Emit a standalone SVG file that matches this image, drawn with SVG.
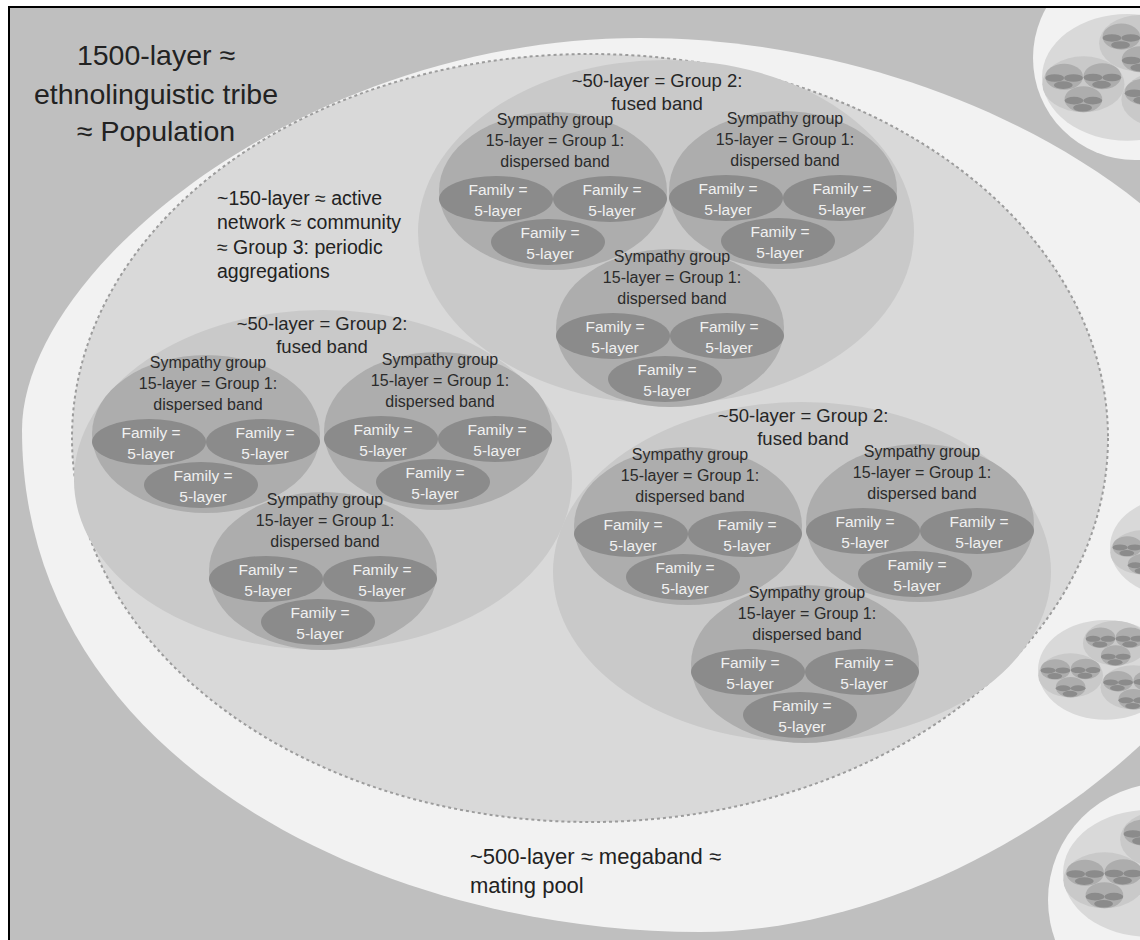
<svg xmlns="http://www.w3.org/2000/svg" xmlns:xlink="http://www.w3.org/1999/xlink" width="1140" height="940" viewBox="0 0 1140 940">
<style>
text{font-family:"Liberation Sans",Arial,sans-serif}
.lbl{fill:#222}
.band>ellipse{fill:#c9c9c9}
.band>text{font-size:18.5px;fill:#262626;text-anchor:middle}
.sym>ellipse{fill:#adadad}
.sym>text{font-size:16px;fill:#2b2b2b;text-anchor:middle}
.fam>ellipse{fill:#8b8b8b}
.fam>text{font-size:15.5px;fill:#f0f0f0;text-anchor:middle}
</style>
<defs>
<clipPath id="frame"><rect x="9" y="7" width="1131" height="933"/></clipPath>
<g id="mSym">
<ellipse cx="-2" cy="66" rx="114" ry="79" fill="#adadad"/>
<ellipse cx="-59" cy="74" rx="57" ry="23" fill="#8b8b8b"/>
<ellipse cx="55" cy="74" rx="57" ry="23" fill="#8b8b8b"/>
<ellipse cx="-7" cy="117" rx="57" ry="23" fill="#8b8b8b"/>
</g>
<g id="m150">
<ellipse cx="590" cy="438" rx="518" ry="384" fill="#d9d9d9"/>
<ellipse cx="666" cy="232" rx="248" ry="172" fill="#c9c9c9"/>
<ellipse cx="323" cy="480" rx="249" ry="170" fill="#c9c9c9"/>
<ellipse cx="802" cy="572" rx="249" ry="170" fill="#c9c9c9"/>
<use xlink:href="#mSym" x="555" y="125"/>
<use xlink:href="#mSym" x="785" y="124"/>
<use xlink:href="#mSym" x="672" y="262"/>
<use xlink:href="#mSym" x="208" y="368"/>
<use xlink:href="#mSym" x="440" y="365"/>
<use xlink:href="#mSym" x="325" y="505"/>
<use xlink:href="#mSym" x="690" y="460"/>
<use xlink:href="#mSym" x="922" y="457"/>
<use xlink:href="#mSym" x="807" y="598"/>
</g>
</defs>
<rect x="0" y="0" width="1140" height="940" fill="#ffffff"/>
<g clip-path="url(#frame)">
<g id="tribe">
<rect x="9" y="7" width="1140" height="940" fill="#bfbfbf"/>
<text class="lbl" x="156" y="65" font-size="28.5" text-anchor="middle">1500-layer ≈</text>
<text class="lbl" x="156" y="104" font-size="28.5" text-anchor="middle">ethnolinguistic tribe</text>
<text class="lbl" x="156" y="141" font-size="28.5" text-anchor="middle">≈ Population</text>
</g>
<g id="megaband">
<path d="M22,430 C22,270 305,38 640,38 C960,38 1290,230 1290,470 C1290,680 980,932 700,932 C380,932 22,760 22,430 Z" fill="#f2f2f2"/>
<text class="lbl" x="470" y="864" font-size="22">~500-layer ≈ megaband ≈</text>
<text class="lbl" x="470" y="893" font-size="22">mating pool</text>
</g>
<g id="other-megaband-top">
<circle cx="1135" cy="58" r="102" fill="#f2f2f2"/>
<use xlink:href="#m150" transform="translate(1042,14) scale(0.165) translate(-72,-54)"/>
</g>
<g id="other-megaband-bottom">
<circle cx="1165" cy="900" r="117" fill="#f2f2f2"/>
<use xlink:href="#m150" transform="translate(1063,810) scale(0.165) translate(-72,-54)"/>
</g>
<g id="other-community-1">
<use xlink:href="#m150" transform="translate(1110,497) scale(0.13) translate(-72,-54)"/>
</g>
<g id="other-community-2">
<use xlink:href="#m150" transform="translate(1038,620) scale(0.13) translate(-72,-54)"/>
</g>
<g id="community">
<ellipse cx="590" cy="438" rx="518" ry="384" fill="#d9d9d9" stroke="#9c9c9c" stroke-width="2" stroke-dasharray="3 3"/>
<text class="lbl" x="217" y="205" font-size="19.5">~150-layer ≈ active</text>
<text class="lbl" x="217" y="229" font-size="19.5">network ≈ community</text>
<text class="lbl" x="217" y="254" font-size="19.5">≈ Group 3: periodic</text>
<text class="lbl" x="217" y="278" font-size="19.5">aggregations</text>
</g>

<g id="band-top" class="band">
<ellipse cx="666" cy="232" rx="248" ry="172"/>
<text x="657" y="87">~50-layer = Group 2:</text>
<text x="657" y="110">fused band</text>
<g id="sym-top-a" class="sym"><ellipse cx="553" cy="191" rx="114" ry="79"/><text x="555" y="125">Sympathy group</text><text x="555" y="146">15-layer = Group 1:</text><text x="555" y="167">dispersed band</text></g>
<g id="sym-top-b" class="sym"><ellipse cx="783" cy="190" rx="114" ry="79"/><text x="785" y="124">Sympathy group</text><text x="785" y="145">15-layer = Group 1:</text><text x="785" y="166">dispersed band</text></g>
<g id="sym-top-c" class="sym"><ellipse cx="670" cy="328" rx="114" ry="79"/><text x="672" y="262">Sympathy group</text><text x="672" y="283">15-layer = Group 1:</text><text x="672" y="304">dispersed band</text></g>
<g id="fam-top-a1" class="fam"><ellipse cx="496" cy="199" rx="57" ry="23"/><text x="498" y="195">Family =</text><text x="498" y="216">5-layer</text></g>
<g id="fam-top-a2" class="fam"><ellipse cx="610" cy="199" rx="57" ry="23"/><text x="612" y="195">Family =</text><text x="612" y="216">5-layer</text></g>
<g id="fam-top-a3" class="fam"><ellipse cx="548" cy="242" rx="57" ry="23"/><text x="550" y="238">Family =</text><text x="550" y="259">5-layer</text></g>
<g id="fam-top-b1" class="fam"><ellipse cx="726" cy="198" rx="57" ry="23"/><text x="728" y="194">Family =</text><text x="728" y="215">5-layer</text></g>
<g id="fam-top-b2" class="fam"><ellipse cx="840" cy="198" rx="57" ry="23"/><text x="842" y="194">Family =</text><text x="842" y="215">5-layer</text></g>
<g id="fam-top-b3" class="fam"><ellipse cx="778" cy="241" rx="57" ry="23"/><text x="780" y="237">Family =</text><text x="780" y="258">5-layer</text></g>
<g id="fam-top-c1" class="fam"><ellipse cx="613" cy="336" rx="57" ry="23"/><text x="615" y="332">Family =</text><text x="615" y="353">5-layer</text></g>
<g id="fam-top-c2" class="fam"><ellipse cx="727" cy="336" rx="57" ry="23"/><text x="729" y="332">Family =</text><text x="729" y="353">5-layer</text></g>
<g id="fam-top-c3" class="fam"><ellipse cx="665" cy="379" rx="57" ry="23"/><text x="667" y="375">Family =</text><text x="667" y="396">5-layer</text></g>
</g>

<g id="band-left" class="band">
<ellipse cx="323" cy="480" rx="249" ry="170"/>
<text x="322" y="330">~50-layer = Group 2:</text>
<text x="322" y="353">fused band</text>
<g id="sym-left-a" class="sym"><ellipse cx="206" cy="434" rx="114" ry="79"/><text x="208" y="368">Sympathy group</text><text x="208" y="389">15-layer = Group 1:</text><text x="208" y="410">dispersed band</text></g>
<g id="sym-left-b" class="sym"><ellipse cx="438" cy="431" rx="114" ry="79"/><text x="440" y="365">Sympathy group</text><text x="440" y="386">15-layer = Group 1:</text><text x="440" y="407">dispersed band</text></g>
<g id="sym-left-c" class="sym"><ellipse cx="323" cy="571" rx="114" ry="79"/><text x="325" y="505">Sympathy group</text><text x="325" y="526">15-layer = Group 1:</text><text x="325" y="547">dispersed band</text></g>
<g id="fam-left-a1" class="fam"><ellipse cx="149" cy="442" rx="57" ry="23"/><text x="151" y="438">Family =</text><text x="151" y="459">5-layer</text></g>
<g id="fam-left-a2" class="fam"><ellipse cx="263" cy="442" rx="57" ry="23"/><text x="265" y="438">Family =</text><text x="265" y="459">5-layer</text></g>
<g id="fam-left-a3" class="fam"><ellipse cx="201" cy="485" rx="57" ry="23"/><text x="203" y="481">Family =</text><text x="203" y="502">5-layer</text></g>
<g id="fam-left-b1" class="fam"><ellipse cx="381" cy="439" rx="57" ry="23"/><text x="383" y="435">Family =</text><text x="383" y="456">5-layer</text></g>
<g id="fam-left-b2" class="fam"><ellipse cx="495" cy="439" rx="57" ry="23"/><text x="497" y="435">Family =</text><text x="497" y="456">5-layer</text></g>
<g id="fam-left-b3" class="fam"><ellipse cx="433" cy="482" rx="57" ry="23"/><text x="435" y="478">Family =</text><text x="435" y="499">5-layer</text></g>
<g id="fam-left-c1" class="fam"><ellipse cx="266" cy="579" rx="57" ry="23"/><text x="268" y="575">Family =</text><text x="268" y="596">5-layer</text></g>
<g id="fam-left-c2" class="fam"><ellipse cx="380" cy="579" rx="57" ry="23"/><text x="382" y="575">Family =</text><text x="382" y="596">5-layer</text></g>
<g id="fam-left-c3" class="fam"><ellipse cx="318" cy="622" rx="57" ry="23"/><text x="320" y="618">Family =</text><text x="320" y="639">5-layer</text></g>
</g>

<g id="band-right" class="band">
<ellipse cx="802" cy="572" rx="249" ry="170"/>
<text x="803" y="422">~50-layer = Group 2:</text>
<text x="803" y="445">fused band</text>
<g id="sym-right-a" class="sym"><ellipse cx="688" cy="526" rx="114" ry="79"/><text x="690" y="460">Sympathy group</text><text x="690" y="481">15-layer = Group 1:</text><text x="690" y="502">dispersed band</text></g>
<g id="sym-right-b" class="sym"><ellipse cx="920" cy="523" rx="114" ry="79"/><text x="922" y="457">Sympathy group</text><text x="922" y="478">15-layer = Group 1:</text><text x="922" y="499">dispersed band</text></g>
<g id="sym-right-c" class="sym"><ellipse cx="805" cy="664" rx="114" ry="79"/><text x="807" y="598">Sympathy group</text><text x="807" y="619">15-layer = Group 1:</text><text x="807" y="640">dispersed band</text></g>
<g id="fam-right-a1" class="fam"><ellipse cx="631" cy="534" rx="57" ry="23"/><text x="633" y="530">Family =</text><text x="633" y="551">5-layer</text></g>
<g id="fam-right-a2" class="fam"><ellipse cx="745" cy="534" rx="57" ry="23"/><text x="747" y="530">Family =</text><text x="747" y="551">5-layer</text></g>
<g id="fam-right-a3" class="fam"><ellipse cx="683" cy="577" rx="57" ry="23"/><text x="685" y="573">Family =</text><text x="685" y="594">5-layer</text></g>
<g id="fam-right-b1" class="fam"><ellipse cx="863" cy="531" rx="57" ry="23"/><text x="865" y="527">Family =</text><text x="865" y="548">5-layer</text></g>
<g id="fam-right-b2" class="fam"><ellipse cx="977" cy="531" rx="57" ry="23"/><text x="979" y="527">Family =</text><text x="979" y="548">5-layer</text></g>
<g id="fam-right-b3" class="fam"><ellipse cx="915" cy="574" rx="57" ry="23"/><text x="917" y="570">Family =</text><text x="917" y="591">5-layer</text></g>
<g id="fam-right-c1" class="fam"><ellipse cx="748" cy="672" rx="57" ry="23"/><text x="750" y="668">Family =</text><text x="750" y="689">5-layer</text></g>
<g id="fam-right-c2" class="fam"><ellipse cx="862" cy="672" rx="57" ry="23"/><text x="864" y="668">Family =</text><text x="864" y="689">5-layer</text></g>
<g id="fam-right-c3" class="fam"><ellipse cx="800" cy="715" rx="57" ry="23"/><text x="802" y="711">Family =</text><text x="802" y="732">5-layer</text></g>
</g>
<g id="connectors"/>
</g>
<rect x="9" y="7" width="1140" height="940" fill="none" stroke="#000" stroke-width="2"/>
</svg>
